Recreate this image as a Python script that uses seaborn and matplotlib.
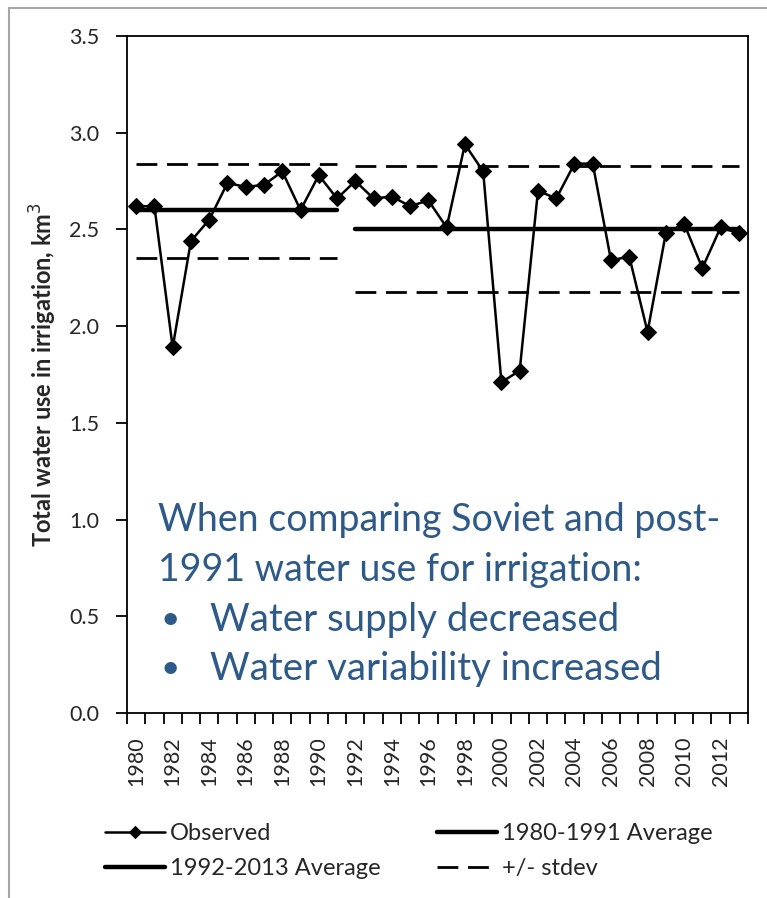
import matplotlib
matplotlib.use("Agg")
import matplotlib.pyplot as plt
import matplotlib.ticker as mticker
from matplotlib.patches import Rectangle
import seaborn as sns
import pandas as pd

# data
years = list(range(1980, 2014))
observed = [2.62, 2.62, 1.89, 2.44, 2.55, 2.74, 2.72, 2.73, 2.80, 2.60, 2.78, 2.66,
            2.75, 2.66, 2.67, 2.62, 2.65, 2.51, 2.94, 2.80, 1.71, 1.77, 2.70, 2.66,
            2.84, 2.84, 2.34, 2.36, 1.97, 2.48, 2.53, 2.30, 2.51, 2.48]
soviet_years = [1980, 1991]
soviet_avg = 2.60
soviet_upper = 2.84
soviet_lower = 2.35
post_years = [1992, 2013]
post_avg = 2.50
post_upper = 2.83
post_lower = 2.175
ytick_values = [0.0, 0.5, 1.0, 1.5, 2.0, 2.5, 3.0, 3.5]
xlabel_years = list(range(1980, 2014, 2))
note_lines = ["When comparing Soviet and post-",
              "1991 water use for irrigation:"]
note_bullets = ["Water supply decreased", "Water variability increased"]

df = pd.DataFrame({"year": years, "observed": observed})

sns.set_style("white")
plt.rcParams['font.family'] = ['Lato', 'DejaVu Sans']

fig = plt.figure(figsize=(7.67, 8.98), dpi=100)
ax = fig.add_axes([127 / 767, 1 - 713 / 898, (748 - 127) / 767, (713 - 36) / 898])

# outer grey frame (partially visible)
fig.add_artist(Rectangle((9 / 767, -0.1), 1.2, 1 - 8 / 898 + 0.1, transform=fig.transFigure,
                         fill=False, edgecolor="#a6a6a6", linewidth=1.5))

sns.lineplot(data=df, x="year", y="observed", ax=ax, color="black", linewidth=1.8,
             marker="D", markersize=8.5, markeredgecolor="black", markerfacecolor="black",
             label="Observed")
sns.lineplot(x=soviet_years, y=[soviet_avg] * 2, ax=ax, color="black", linewidth=3.2,
             label="1980-1991 Average")
sns.lineplot(x=post_years, y=[post_avg] * 2, ax=ax, color="black", linewidth=3.2,
             label="1992-2013 Average")
dash = (7.5, 3.5)
sns.lineplot(x=soviet_years, y=[soviet_upper] * 2, ax=ax, color="black", linewidth=2,
             label="+/- stdev")
for xs, yv in [(soviet_years, soviet_lower), (post_years, post_upper), (post_years, post_lower)]:
    sns.lineplot(x=xs, y=[yv] * 2, ax=ax, color="black", linewidth=2,
                 label="_nolegend_")
for line in ax.lines[3:]:
    line.set_dashes(dash)

ax.set_xlim(1979.5, 2013.5)
ax.set_ylim(0, 3.5)
ax.set_yticks(ytick_values)
ax.yaxis.set_major_formatter(mticker.FormatStrFormatter("%.1f"))
ax.set_xticks([y - 0.5 for y in years] + [2013.5])
ax.set_xticklabels([])
ax.set_xticks(xlabel_years, minor=True)
ax.set_xticklabels([str(y) for y in xlabel_years], minor=True, rotation=90)
ax.tick_params(axis="x", which="major", direction="out", length=8, width=1.3,
               color="black", bottom=True)
ax.tick_params(axis="x", which="minor", length=0, pad=17, labelsize=15.5)
ax.tick_params(axis="y", direction="out", length=8, width=1.3, color="black",
               left=True, pad=12, labelsize=15.5)
for sp in ax.spines.values():
    sp.set_visible(True)
    sp.set_color("black")
    sp.set_linewidth(1.3)

ax.set_xlabel("")
ax.set_ylabel("Total water use in irrigation, km$^3$", fontsize=17, fontweight="bold")
ax.yaxis.set_label_coords(-0.11, 0.5)

# annotation
blue = "#2d5a88"
tx = (158 - 127) / 621
line_y = [520, 570, 620, 669]
for i, t in enumerate(note_lines):
    ax.text(tx, (713 - line_y[i]) / 677, t, transform=ax.transAxes, color=blue,
            fontsize=27, va="center", ha="left")
for i, t in enumerate(note_bullets):
    yy = (713 - line_y[i + 2]) / 677
    ax.text((160 - 127) / 621, yy, "\u2022", transform=ax.transAxes, color=blue,
            fontsize=24, va="center", ha="left")
    ax.text((210 - 127) / 621, yy, t, transform=ax.transAxes, color=blue,
            fontsize=27.6, va="center", ha="left")

handles, labels = ax.get_legend_handles_labels()
order = [labels.index(n) for n in ["Observed", "1992-2013 Average",
                                    "1980-1991 Average", "+/- stdev"]]
if ax.get_legend() is not None:
    ax.get_legend().remove()
fig.legend([handles[i] for i in order], [labels[i] for i in order], ncol=2,
           loc="center left", bbox_to_anchor=(93 / 767, 1 - 851 / 898),
           frameon=False, fontsize=17, handlelength=2.55, handletextpad=0.2,
           columnspacing=2.4, labelspacing=0.6, borderpad=0, markerscale=0.75)

fig.savefig("out.png", dpi=100)
